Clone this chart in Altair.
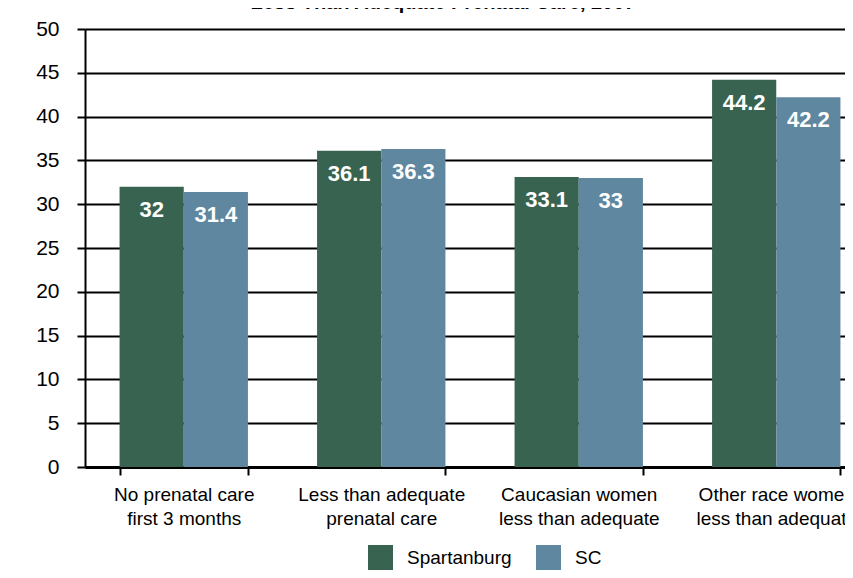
import altair as alt
import pandas as pd

categories = [
    "No prenatal care|first 3 months",
    "Less than adequate|prenatal care",
    "Caucasian women|less than adequate",
    "Other race women|less than adequate",
]
series = ["Spartanburg", "SC"]
spartanburg = [32, 36.1, 33.1, 44.2]
sc = [31.4, 36.3, 33, 42.2]
colors = ["#386350", "#5f87a0"]
y_ticks = [0, 5, 10, 15, 20, 25, 30, 35, 40, 45, 50]
title_text = "Less Than Adequate Prenatal Care, 2007"

rows = []
for c, a, b in zip(categories, spartanburg, sc):
    rows.append({"category": c, "series": "Spartanburg", "value": a})
    rows.append({"category": c, "series": "SC", "value": b})
df = pd.DataFrame(rows)

FONT = "Liberation Sans, Arial, sans-serif"

x = alt.X(
    "category:N",
    sort=categories,
    title=None,
    scale=alt.Scale(paddingInner=0.35, paddingOuter=0.175, range=[0, 790]),
    axis=alt.Axis(
        labelAngle=0,
        labelExpr="split(datum.label, '|')",
        tickBand="extent",
        domainColor="black",
        domainWidth=3,
        tickColor="black",
        tickWidth=2,
        tickSize=8,
        labelFont=FONT,
        labelFontSize=19,
        labelColor="black",
        labelPadding=10,
        labelLineHeight=24,
        labelLimit=400,
    ),
)
xo = alt.XOffset("series:N", sort=series, scale=alt.Scale(paddingInner=0, paddingOuter=0))
y = alt.Y(
    "value:Q",
    title=None,
    scale=alt.Scale(domain=[0, 50], nice=False),
    axis=alt.Axis(
        values=y_ticks,
        grid=True,
        gridColor="black",
        gridWidth=2,
        gridOpacity=1,
        tickColor="black",
        tickWidth=2,
        tickSize=8,
        domainColor="black",
        domainWidth=2,
        labelFont=FONT,
        labelFontSize=21,
        labelColor="black",
        labelPadding=18,
    ),
)
color = alt.Color(
    "series:N",
    sort=series,
    scale=alt.Scale(domain=series, range=colors),
    legend=alt.Legend(
        title=None,
        orient="none",
        legendX=283,
        legendY=516,
        direction="horizontal",
        symbolType="square",
        symbolSize=625,
        symbolStrokeWidth=0,
        symbolOpacity=1,
        labelFont=FONT,
        labelFontSize=19,
        labelColor="black",
        labelOffset=14,
        columnPadding=24,
    ),
)

bars = alt.Chart(df).mark_bar().encode(x=x, xOffset=xo, y=y, color=color)
labels = alt.Chart(df).mark_text(
    dy=23, baseline="middle", align="center", color="white",
    font=FONT, fontWeight="bold", fontSize=22,
).encode(x=x, xOffset=xo, y=y, text=alt.Text("value:Q"))

chart = (
    alt.layer(bars, labels)
    .properties(
        width=760,
        height=438,
        autosize=alt.AutoSizeParams(type="none"),
        padding={"left": 77, "top": 21, "right": 0, "bottom": 103},
        background="white",
        title=alt.TitleParams(
            text=title_text, font="Liberation Sans", fontSize=20, fontWeight="bold",
            anchor="middle", frame="group", offset=5, dx=-22, color="black",
        ),
    )
    .configure_view(stroke=None)
)

chart.save("out.html", embed_options={"renderer": "svg", "actions": False})
